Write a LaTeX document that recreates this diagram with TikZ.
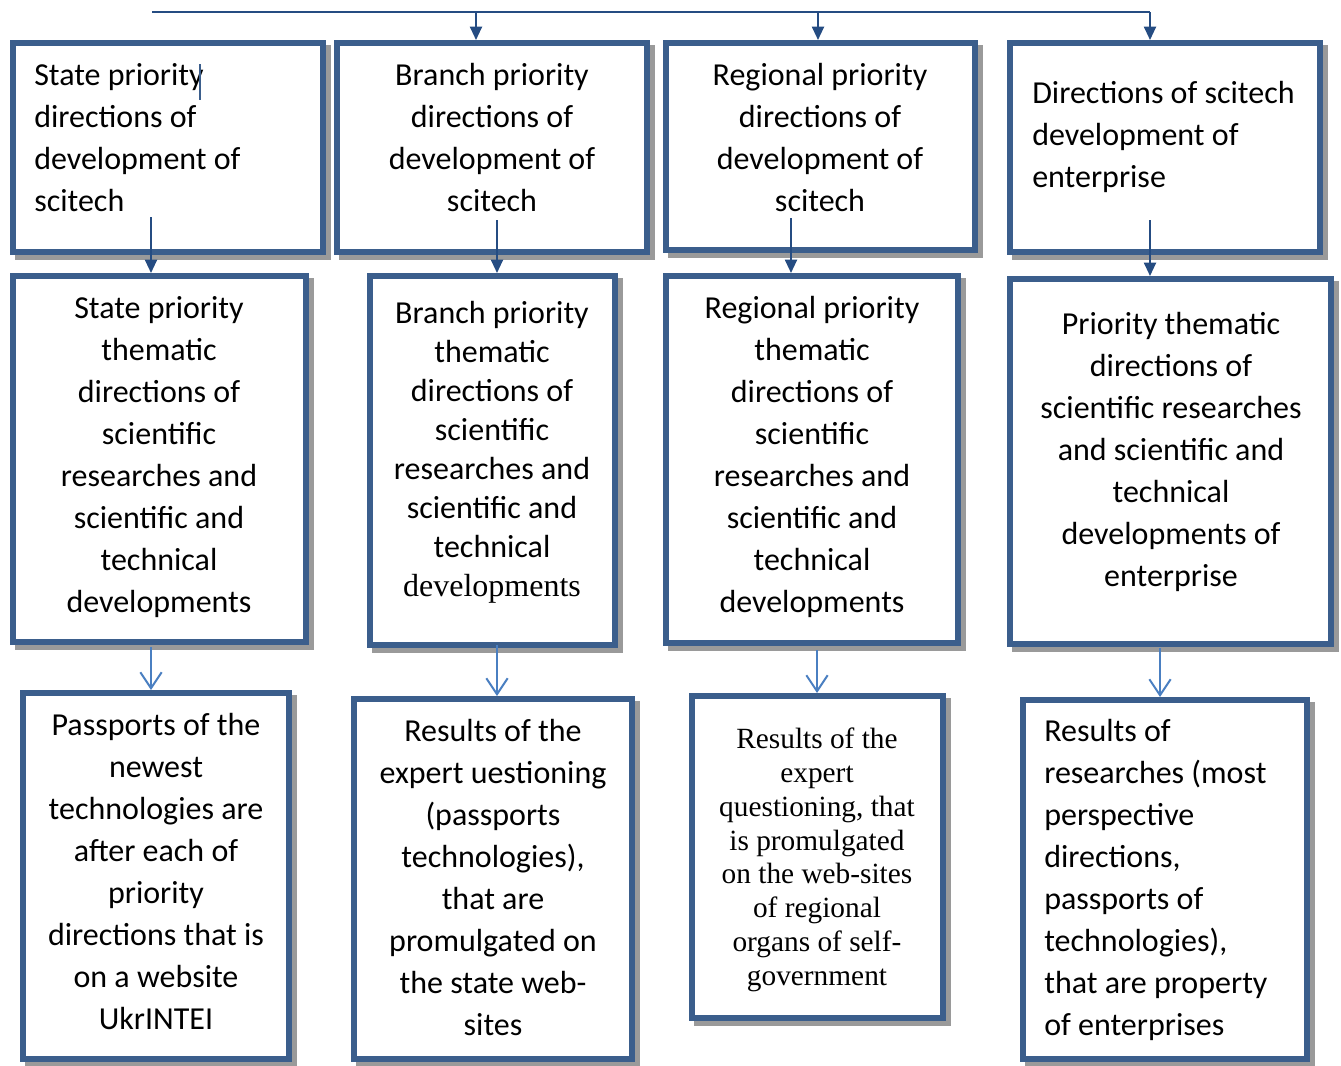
\documentclass[tikz,border=0pt]{standalone}
\usepackage{fontspec}
\setmainfont{Carlito}
\newfontfamily\timesfont{Liberation Serif}
\usetikzlibrary{arrows.meta,fit}

\definecolor{frameblue}{RGB}{59,94,140}
\definecolor{darkarrow}{RGB}{37,76,130}
\definecolor{lightarrow}{RGB}{74,127,193}
\definecolor{shadowgray}{RGB}{154,154,154}

\tikzset{
  frameline/.style={draw=frameblue, line width=4.5pt, fill=white, inner sep=0pt, minimum size=0pt},
  shadowline/.style={draw=shadowgray, line width=4pt},
  bodytext/.style={inner sep=0pt, font={\fontsize{24pt}{31.5pt}\selectfont}},
  serifbody/.style={inner sep=0pt, font={\timesfont\fontsize{22pt}{25.3pt}\selectfont}},
  solidarrow/.style={draw=darkarrow, line width=1.5pt, -{Triangle[width=9pt,length=10pt]}},
  openarrow/.style={draw=lightarrow, line width=1.5pt, -{Straight Barb[width=16pt,length=12pt,line width=1.5pt]}},
  busline/.style={draw=darkarrow, line width=1.5pt},
}

% #1 name, (#2,#3) outer top-left, (#4,#5) outer bottom-right, in pixels
\newcommand\frameblock[5]{%
  \draw[shadowline] (#2+8,#3+8) rectangle (#4+2,#5+2);
  \node[frameline, fit={(#2+3,#3+3) (#4-3,#5-3)}] (#1) {};
}

\begin{document}
\begin{tikzpicture}[x=0.75pt, y=-0.75pt]
\useasboundingbox (0,0) rectangle (1341,1065);

% ---- frames ----
\frameblock{a1}{10}{40}{326}{255}
\frameblock{a2}{334}{40}{650}{255}
\frameblock{a3}{663}{40}{978}{253}
\frameblock{a4}{1007}{40}{1323}{255}

\frameblock{b1}{10}{273}{309}{645}
\frameblock{b2}{367}{273}{618}{648}
\frameblock{b3}{663}{273}{961}{646}
\frameblock{b4}{1007}{276}{1334}{647}

\frameblock{c1}{20}{690}{292}{1062}
\frameblock{c2}{351}{696}{635}{1062}
\frameblock{c3}{689}{693}{946}{1021}
\frameblock{c4}{1020}{697}{1310}{1062}

% ---- texts (anchored on the baseline of the last line) ----
\node[bodytext, align=left, anchor=base west] (a1t) at (34,211)
  {State priority\\directions of\\development of\\scitech};
\node[bodytext, align=center, anchor=base] (a2t) at (492,211)
  {Branch priority\\directions of\\development of\\scitech};
\node[bodytext, align=center, anchor=base] (a3t) at (820,211)
  {Regional priority\\directions of\\development of\\scitech};
\node[bodytext, align=left, anchor=base west] (a4t) at (1032,187)
  {Directions of scitech\\development of\\enterprise};

\node[bodytext, align=center, anchor=base] (b1t) at (159,612)
  {State priority\\thematic\\directions of\\scientific\\researches and\\scientific and\\technical\\developments};
\node[bodytext, align=center, anchor=base, font={\fontsize{24pt}{29.25pt}\selectfont}] (b2t) at (492,596)
  {Branch priority\\thematic\\directions of\\scientific\\researches and\\scientific and\\technical\\{\timesfont developments}};
\node[bodytext, align=center, anchor=base] (b3t) at (812,612)
  {Regional priority\\thematic\\directions of\\scientific\\researches and\\scientific and\\technical\\developments};
\node[bodytext, align=center, anchor=base] (b4t) at (1171,586)
  {Priority thematic\\directions of\\scientific researches\\and scientific and\\technical\\developments of\\enterprise};

\node[bodytext, align=center, anchor=base] (c1t) at (156,1029)
  {Passports of the\\newest\\technologies are\\after each of\\priority\\directions that is\\on a website\\UkrINTEI};
\node[bodytext, align=center, anchor=base] (c2t) at (493,1035)
  {Results of the\\expert uestioning\\(passports\\technologies),\\that are\\promulgated on\\the state web-\\sites};
\node[serifbody, align=center, anchor=base] (c3t) at (817,985)
  {Results of the\\expert\\questioning, that\\is promulgated\\on the web-sites\\of regional\\organs of self-\\government};
\node[bodytext, align=left, anchor=base west] (c4t) at (1044,1035)
  {Results of\\researches (most\\perspective\\directions,\\passports of\\technologies),\\that are property\\of enterprises};

% stray text cursor mark
\draw[draw=frameblue, line width=1.2pt] (200,64) -- (200,100);

% ---- top distribution line ----
\coordinate (busL) at (152,12);
\coordinate (busR) at (1150,12);
\coordinate (bus2) at (476,12);
\coordinate (bus3) at (818,12);
\draw[busline] (busL) -- (busR);
\draw[solidarrow] (busR) -- (busR |- a4.north);
\draw[solidarrow] (bus2) -- (bus2 |- a2.north);
\draw[solidarrow] (bus3) -- (bus3 |- a3.north);

% ---- first to second row ----
\coordinate (s1) at (151,217);
\coordinate (s2) at (497,220);
\coordinate (s3) at (791,218);
\coordinate (s4) at (1150,220);
\draw[solidarrow] (s1) -- (s1 |- b1.north);
\draw[solidarrow] (s2) -- (s2 |- b2.north);
\draw[solidarrow] (s3) -- (s3 |- b3.north);
\draw[solidarrow] (s4) -- (s4 |- b4.north);

% ---- second to third row ----
\coordinate (t1) at (151,647);
\coordinate (t2) at (497,645);
\coordinate (t3) at (817,650);
\coordinate (t4) at (1160,648);
\draw[openarrow] (t1) -- (t1 |- c1.north);
\draw[openarrow] (t2) -- (t2 |- c2.north);
\draw[openarrow] (t3) -- (t3 |- c3.north);
\draw[openarrow] (t4) -- (t4 |- c4.north);
\end{tikzpicture}
\end{document}
